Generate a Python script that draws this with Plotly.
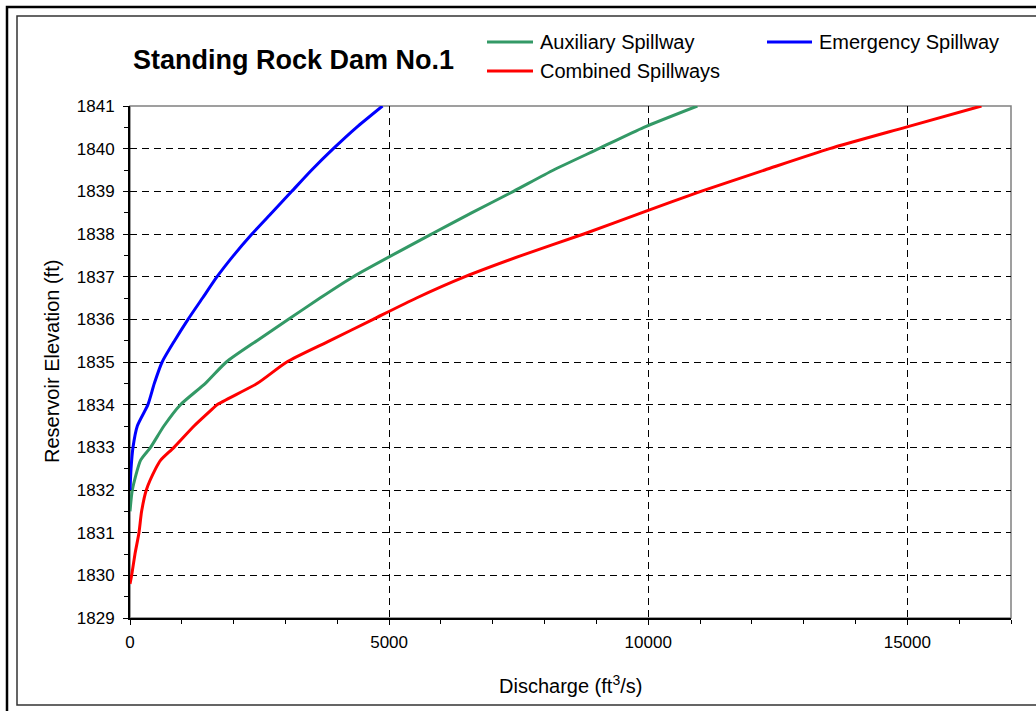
import plotly.graph_objects as go

# ---------------- data ----------------
emerg_q = [0, 20, 58, 141, 346, 470, 620, 860, 1120, 1400, 1680, 2000, 2353, 2737, 3122, 3506, 3923, 4372, 4872]
emerg_el = [1832.0, 1832.5, 1833.0, 1833.5, 1834.0, 1834.5, 1835.0, 1835.5, 1836.0, 1836.5, 1837.0, 1837.5,
            1838.0, 1838.5, 1839.0, 1839.5, 1840.0, 1840.5, 1841.0]

aux_q = [0, 45, 205, 397, 654, 974, 1455, 1859, 2449, 3058, 3667, 4308, 5820, 6600, 7400, 8174,
         9045, 9916, 10948]
aux_el = [1831.5, 1832.0, 1832.7, 1833.0, 1833.5, 1834.0, 1834.5, 1835.0, 1835.5, 1836.0, 1836.5, 1837.0,
          1838.0, 1838.5, 1839.0, 1839.5, 1840.0, 1840.5, 1841.0]

comb_q = [0, 32, 96, 173, 224, 315, 495, 592, 849, 1236, 1590, 1680, 2458, 3026, 3859, 4692, 5529,
          6465, 7561, 8755, 9880, 11015, 12250, 13500, 14961, 16430]
comb_el = [1829.8, 1830.0, 1830.5, 1831.0, 1831.5, 1832.0, 1832.5, 1832.7, 1833.0, 1833.5, 1833.9, 1834.0,
           1834.5, 1835.0, 1835.5, 1836.0, 1836.5, 1837.0, 1837.5, 1838.0, 1838.5, 1839.0, 1839.5,
           1840.0, 1840.5, 1841.0]

series_names = ["Auxiliary Spillway", "Emergency Spillway", "Combined Spillways"]
series_colors = ["#339966", "#0000FF", "#FF0000"]

title_text = "Standing Rock Dam No.1"
x_title = "Discharge (ft<sup>3</sup>/s)"
y_title = "Reservoir Elevation (ft)"

# ---------------- layout geometry ----------------
W, H = 1036, 711
L, R, T, B = 130, 1011, 106, 618


def px(x):
    return (x - L) / (R - L)


def py(y):
    return (B - y) / (B - T)


FONT = "Arial, Liberation Sans, sans-serif"

fig = go.Figure()
for q, el, name, col in [(aux_q, aux_el, series_names[0], series_colors[0]),
                         (emerg_q, emerg_el, series_names[1], series_colors[1]),
                         (comb_q, comb_el, series_names[2], series_colors[2])]:
    fig.add_trace(go.Scatter(x=q, y=el, mode="lines", name=name,
                             line=dict(color=col, width=3, shape="spline", smoothing=0.6),
                             showlegend=False))

shapes = []
# outer frame (double border)
shapes.append(dict(type="rect", xref="paper", yref="paper", x0=px(7), x1=px(1045), y0=py(7), y1=py(720),
                   line=dict(color="black", width=2.5), layer="below"))
shapes.append(dict(type="rect", xref="paper", yref="paper", x0=px(17), x1=px(1045), y0=py(16), y1=py(705),
                   line=dict(color="#333333", width=1.5), layer="below"))
# plot-area border (grey)
shapes.append(dict(type="rect", xref="paper", yref="paper", x0=0, x1=1, y0=0, y1=1,
                   line=dict(color="#808080", width=1.5), layer="below"))

# legend (manual)
legend_pos = [(487, 533, 42), (767, 812, 42), (487, 533, 71)]
annotations = []
for (x0, x1, yy), name, col in zip(legend_pos, series_names, series_colors):
    shapes.append(dict(type="line", xref="paper", yref="paper", x0=px(x0), x1=px(x1), y0=py(yy), y1=py(yy),
                       line=dict(color=col, width=3)))
    annotations.append(dict(text=name, xref="paper", yref="paper", x=px(x1 + 5), y=py(yy),
                            xanchor="left", yanchor="middle", showarrow=False,
                            font=dict(family=FONT, size=20, color="black")))

annotations.append(dict(text="<b>" + title_text + "</b>", xref="paper", yref="paper", x=px(293), y=py(60),
                        xanchor="center", yanchor="middle", showarrow=False,
                        font=dict(family=FONT, size=27, color="black")))
annotations.append(dict(text=x_title, xref="paper", yref="paper", x=px(570), y=py(684),
                        xanchor="center", yanchor="middle", showarrow=False,
                        font=dict(family=FONT, size=20, color="black")))
annotations.append(dict(text=y_title, xref="paper", yref="paper", x=px(52), y=py(362),
                        xanchor="center", yanchor="middle", showarrow=False, textangle=-90,
                        font=dict(family=FONT, size=20, color="black")))

fig.update_layout(
    width=W, height=H,
    margin=dict(l=L, r=W - R, t=T, b=H - B, pad=0),
    paper_bgcolor="white", plot_bgcolor="white",
    shapes=shapes, annotations=annotations,
    showlegend=False,
    font=dict(family=FONT, color="black"),
)

fig.update_xaxes(
    range=[0, 17000], dtick=5000, tick0=0, tickformat="d",
    showline=True, linecolor="black", linewidth=2,
    ticks="outside", ticklen=5, tickcolor="black", tickwidth=1,
    showgrid=True, gridcolor="black", gridwidth=1, griddash="7px,5px",
    zeroline=False,
    tickfont=dict(family=FONT, size=17, color="black"),
    ticklabelstandoff=3,
    minor=dict(dtick=1000, ticks="outside", ticklen=4, tickcolor="black", showgrid=False),
)
fig.update_yaxes(
    range=[1829, 1841], dtick=1, tick0=1829, tickformat="d",
    showline=True, linecolor="black", linewidth=2,
    ticks="outside", ticklen=5, tickcolor="black", tickwidth=1,
    showgrid=True, gridcolor="black", gridwidth=1, griddash="7px,5px",
    zeroline=False,
    tickfont=dict(family=FONT, size=17, color="black"),
    ticklabelstandoff=5,
    minor=dict(dtick=0.5, ticks="outside", ticklen=4, tickcolor="black", showgrid=False),
)

fig.write_html("out.html", config={"displayModeBar": False},
               post_script="document.body.style.margin='0';document.body.style.overflow='hidden';")
